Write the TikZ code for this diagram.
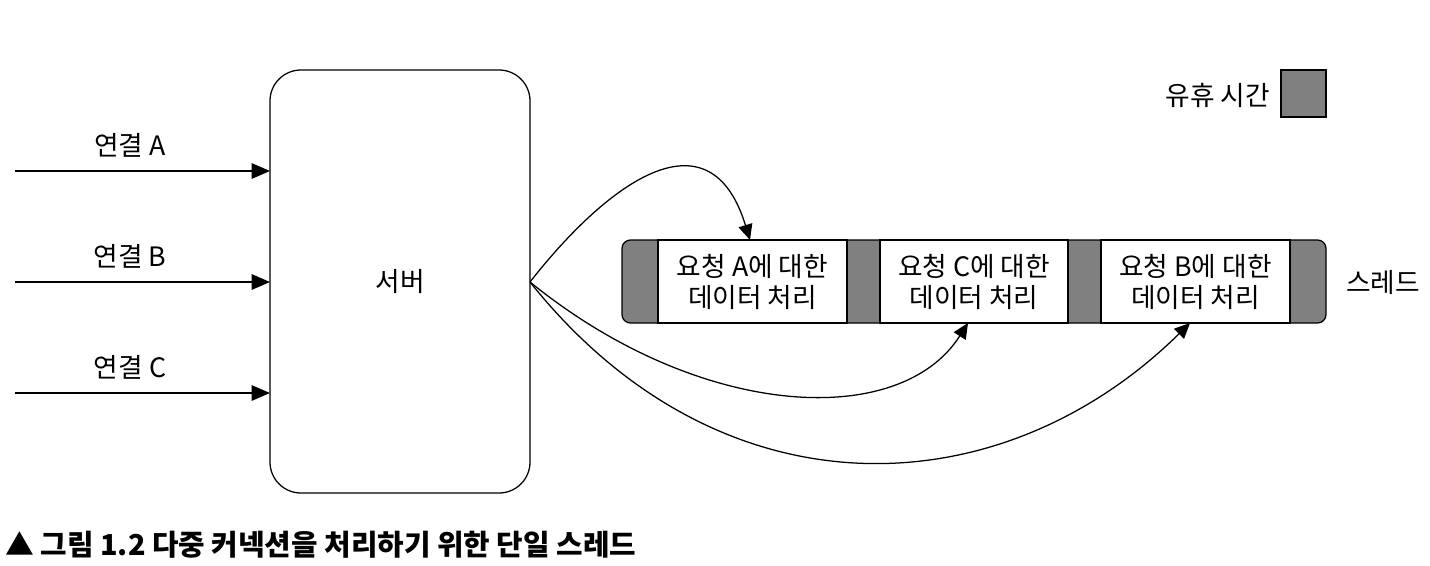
\documentclass[tikz,border=0pt]{standalone}
\usepackage{fontspec}
\setmainfont{Noto Sans CJK KR}
\usetikzlibrary{arrows.meta}
\definecolor{idle}{HTML}{808080}
\begin{document}
\begin{tikzpicture}[x=0.025cm,y=-0.025cm,
  lbl/.style={font=\fontsize{19}{21}\selectfont, inner sep=0},
  two/.style={font=\fontsize{19}{22.5}\selectfont, align=center, inner sep=0},
  arr/.style={-{Triangle[length=13pt,width=11pt]}, line width=0.9pt},
  carr/.style={-{Triangle[length=11pt,width=10pt]}, line width=0.9pt}]
\useasboundingbox (0,0) rectangle (1430,566);
% server
\node[draw, line width=0.9pt, rounded corners=22pt, minimum width=260*0.025cm, minimum height=423*0.025cm] (srv) at (400,281.5) {};
\node[lbl] (srvt) at (400,282) {서버};
% connections
\coordinate (sa) at (15,171); \coordinate (ea) at (270,171);
\coordinate (sb) at (15,282); \coordinate (eb) at (270,282);
\coordinate (sc) at (15,393); \coordinate (ec) at (270,393);
\draw[arr] (sa) -- (ea);
\draw[arr] (sb) -- (eb);
\draw[arr] (sc) -- (ec);
\node[lbl] (la) at (130,145) {연결 A};
\node[lbl] (lb) at (130,256) {연결 B};
\node[lbl] (lc) at (130,367) {연결 C};
% thread bar
\draw[line width=0.9pt, rounded corners=6pt, fill=idle] (622,240) rectangle (1326,323);
\draw[line width=0.9pt, fill=white] (658,240) rectangle (847,323);
\draw[line width=0.9pt, fill=white] (880,240) rectangle (1068,323);
\draw[line width=0.9pt, fill=white] (1101,240) rectangle (1290,323);
\node[two] (ta) at (752.5,282) {요청 A에 대한\\데이터 처리};
\node[two] (tc) at (974,282) {요청 C에 대한\\데이터 처리};
\node[two] (tb) at (1195.5,282) {요청 B에 대한\\데이터 처리};
\coordinate (pa) at (750,240);
\coordinate (pc) at (968,323);
\coordinate (pb) at (1190,323);
\node[lbl] (thr) at (1383,282) {스레드};
% legend
\draw[line width=0.9pt, fill=idle] (1281,70) rectangle (1326,117);
\node[lbl, anchor=east] (leg) at (1270,95) {유휴 시간};
% curves
\coordinate (o) at (530,282);
\draw[carr] (o) .. controls (610,180) and (710,110) .. (pa);
\draw[carr] (o) .. controls (700,420) and (900,430) .. (pc);
\draw[carr] (o) .. controls (720,520) and (1000,510) .. (pb);
% caption
\node[anchor=west, inner sep=0, font=\bfseries\fontsize{20.5}{24}\selectfont] (cap) at (5,545) {▲ 그림 1.2 다중 커넥션을 처리하기 위한 단일 스레드};
\end{tikzpicture}
\end{document}
